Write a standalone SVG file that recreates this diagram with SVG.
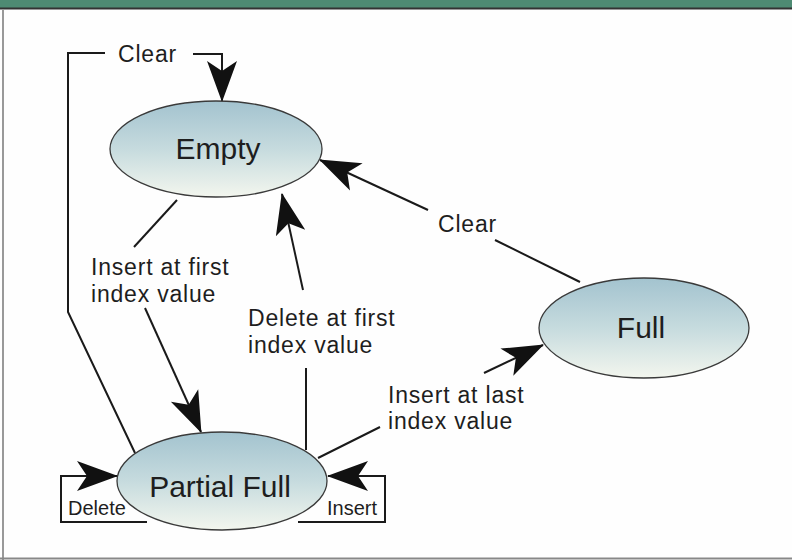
<svg xmlns="http://www.w3.org/2000/svg" width="792" height="560" viewBox="0 0 792 560">
  <style>
    .conn { fill: none; stroke: #1a1a1a; stroke-width: 2; }
    .state { fill: url(#g); stroke: #3a3a3a; stroke-width: 1.3; }
    .st { font-family: "Liberation Sans", Arial, sans-serif; font-size: 30px; fill: #1e1e1e; text-anchor: middle; }
    .lbl { font-family: "Liberation Sans", Arial, sans-serif; font-size: 23px; letter-spacing: 0.8px; fill: #1e1e1e; }
    .sm { font-family: "Liberation Sans", Arial, sans-serif; font-size: 20px; fill: #1e1e1e; }
  </style>
  <defs>
    <linearGradient id="g" x1="0" y1="0" x2="0" y2="1">
      <stop offset="0" stop-color="#a3c3cf"/>
      <stop offset="0.5" stop-color="#c6dbde"/>
      <stop offset="1" stop-color="#f3f6ee"/>
    </linearGradient>
    <marker id="ah" markerUnits="userSpaceOnUse" viewBox="-42 -18 44 36" markerWidth="44" markerHeight="36" refX="0" refY="0" orient="auto">
      <path d="M1,0 L-40,-15 L-30,0 L-40,15 Z" fill="#111"/>
    </marker>
  </defs>
  <rect x="0" y="0" width="792" height="560" fill="#fefefe"/>
  <rect x="0" y="0" width="792" height="8" fill="#4e8b73"/>
  <line x1="0" y1="8.5" x2="792" y2="8.5" stroke="#333" stroke-width="2"/>
  <line x1="3" y1="9" x2="3" y2="560" stroke="#999" stroke-width="2"/>
  <line x1="0" y1="558.5" x2="792" y2="558.5" stroke="#888" stroke-width="2"/>

  <g id="connectors">
    <path class="conn" d="M135,453 L68,312 L68,53 L105,53"/>
    <path class="conn" d="M193,54 L222,54 L222,101" marker-end="url(#ah)"/>
    <path class="conn" d="M177,200 L134,247"/>
    <path class="conn" d="M145,308 L201,432" marker-end="url(#ah)"/>
    <path class="conn" d="M306,450 L306,368"/>
    <path class="conn" d="M303,290 L282,194" marker-end="url(#ah)"/>
    <path class="conn" d="M580,282 L495,240"/>
    <path class="conn" d="M428,210 L320,160" marker-end="url(#ah)"/>
    <path class="conn" d="M318,458 L380,427"/>
    <path class="conn" d="M484,373 L543,345" marker-end="url(#ah)"/>
    <path class="conn" d="M147,522 L61,522 L61,476 L117,476" marker-end="url(#ah)"/>
    <path class="conn" d="M298,522 L385,522 L385,476 L328,476" marker-end="url(#ah)"/>
    <text class="lbl" x="118" y="62">Clear</text>
    <text class="lbl" x="91" y="275">Insert at first</text>
    <text class="lbl" x="91" y="302">index value</text>
    <text class="lbl" x="248" y="326">Delete at first</text>
    <text class="lbl" x="248" y="353">index value</text>
    <text class="lbl" x="438" y="232">Clear</text>
    <text class="lbl" x="388" y="403">Insert at last</text>
    <text class="lbl" x="388" y="429">index value</text>
    <text class="sm" x="68" y="515">Delete</text>
    <text class="sm" x="327" y="515">Insert</text>
  </g>

  <g id="empty">
    <ellipse class="state" cx="216" cy="149" rx="106" ry="48"/>
    <text class="st" x="218" y="159">Empty</text>
  </g>
  <g id="partial-full">
    <ellipse class="state" cx="222" cy="481" rx="105" ry="49"/>
    <text class="st" x="220" y="497">Partial Full</text>
  </g>
  <g id="full">
    <ellipse class="state" cx="644" cy="328" rx="105" ry="50"/>
    <text class="st" x="641" y="338">Full</text>
  </g>
</svg>
